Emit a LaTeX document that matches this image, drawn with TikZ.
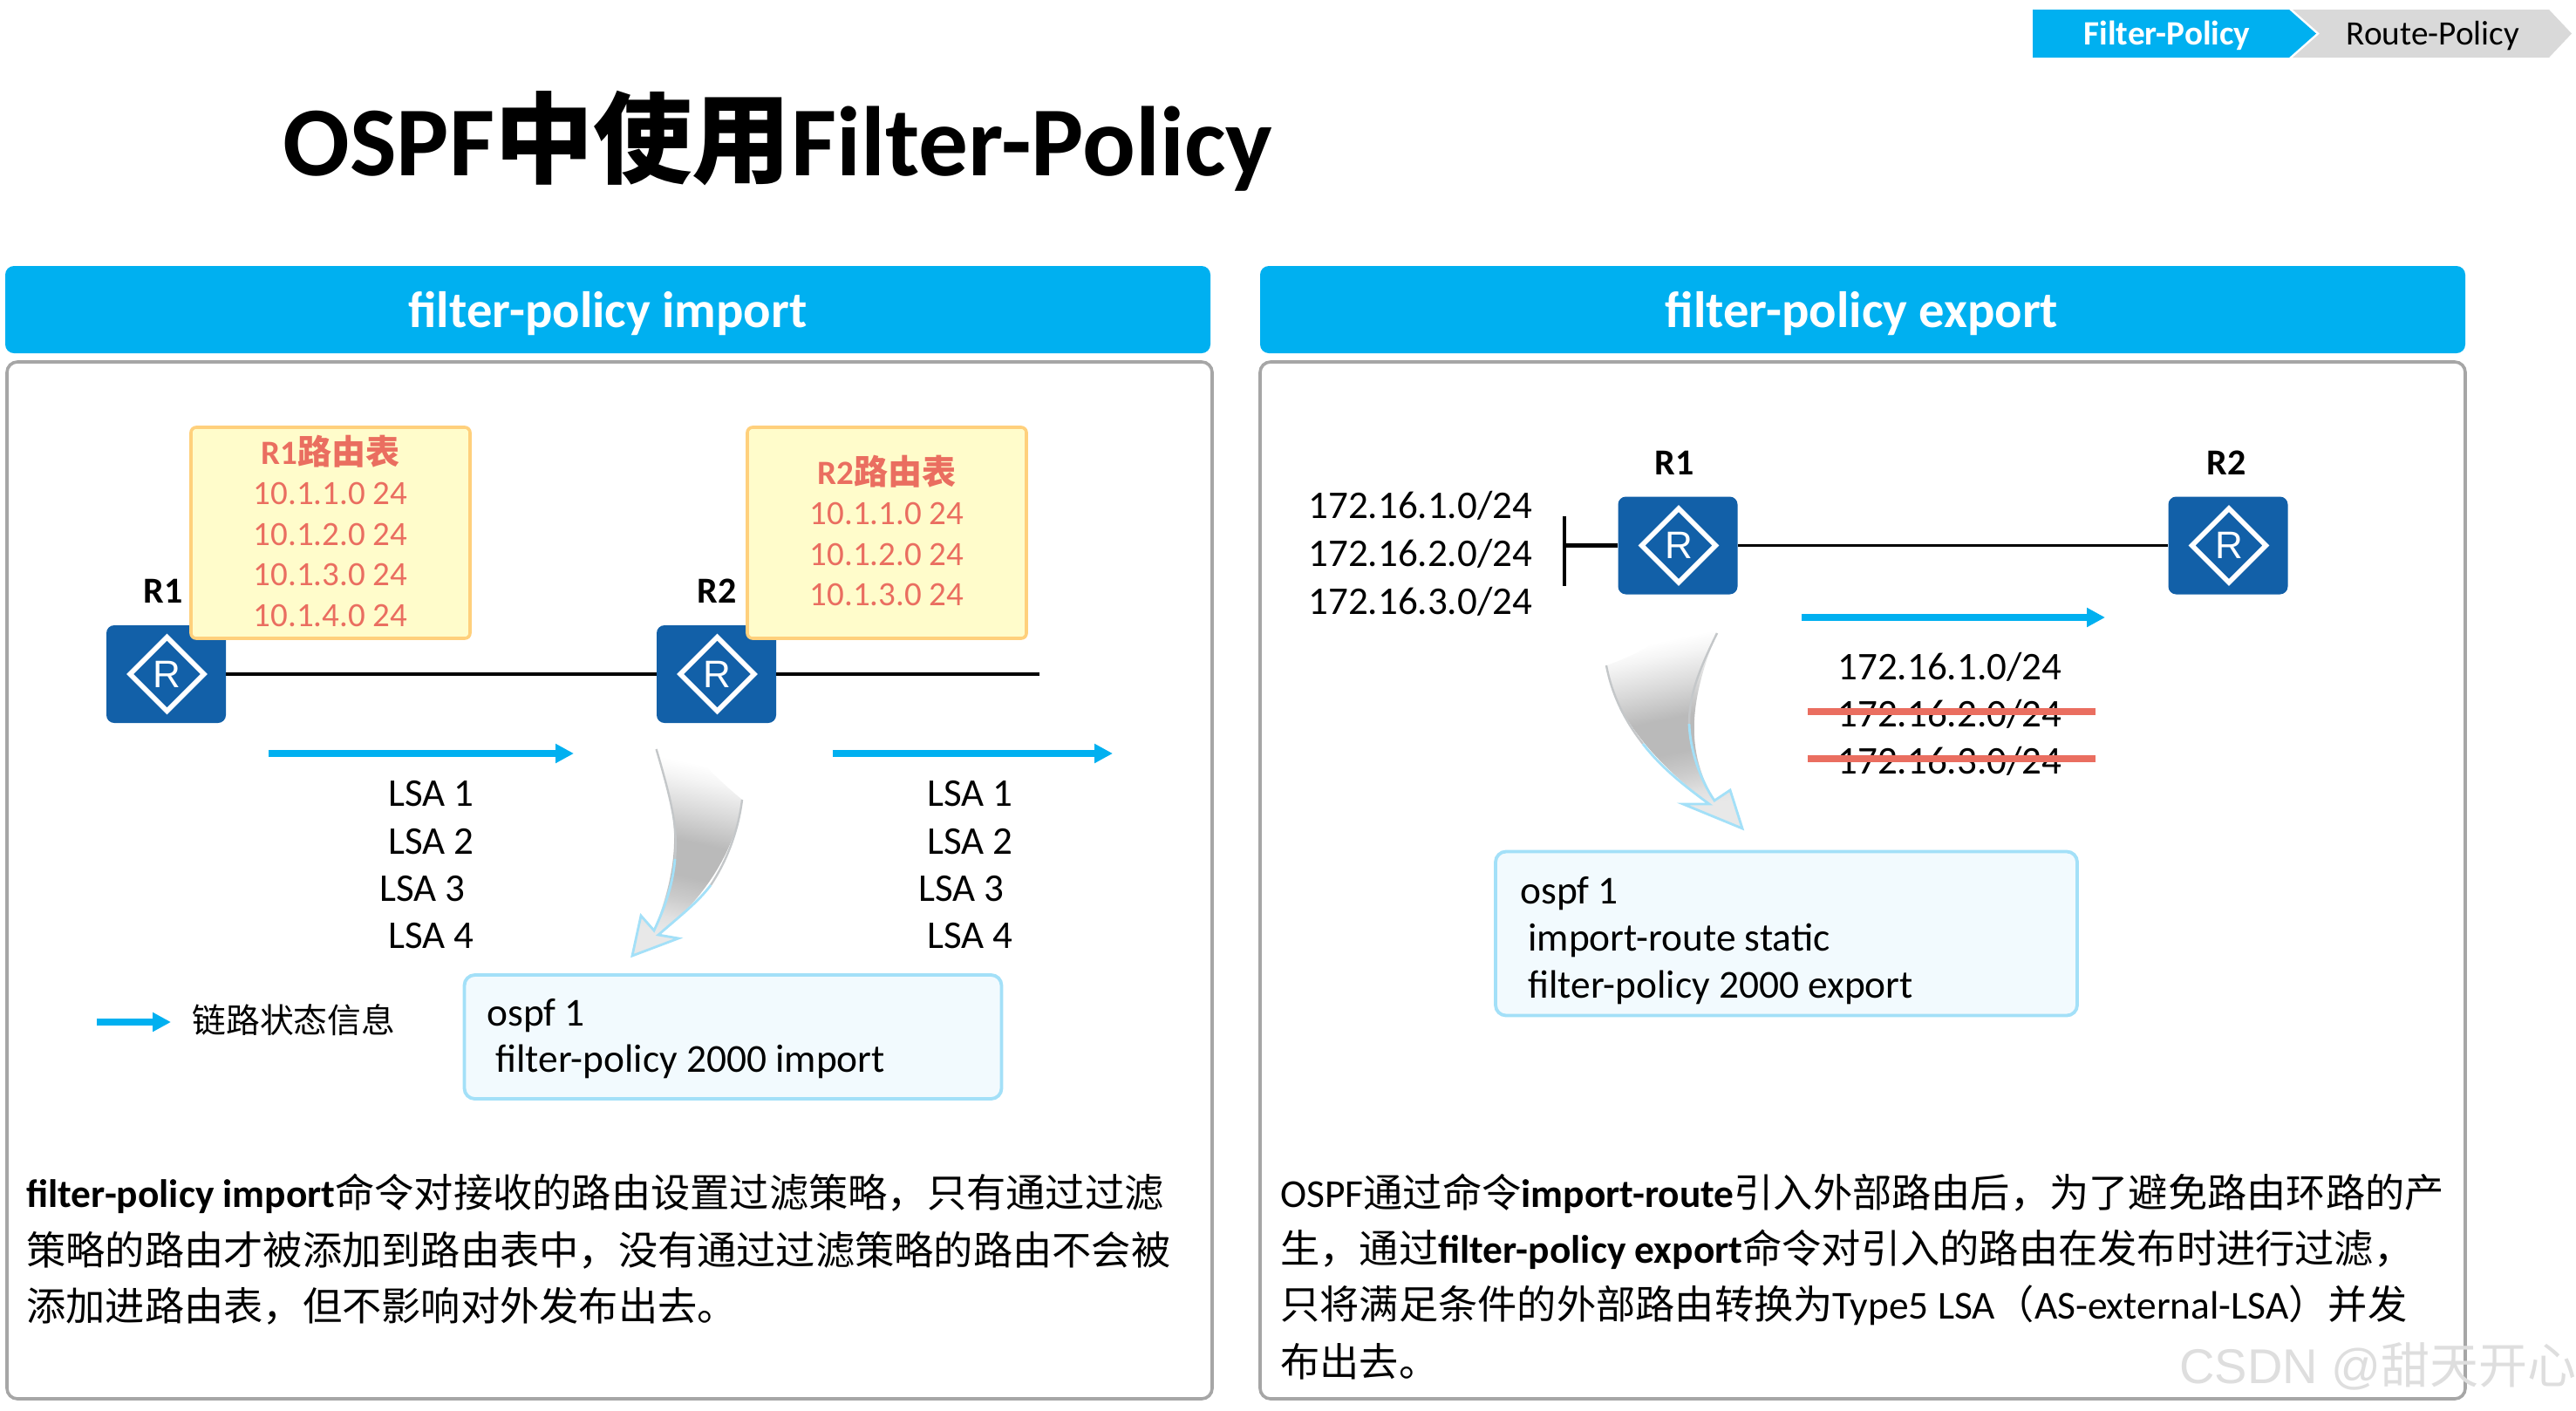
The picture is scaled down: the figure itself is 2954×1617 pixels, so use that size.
\documentclass[tikz,border=0pt]{standalone}
\usepackage{fontspec}
\setmainfont{Carlito}
\newfontfamily\cjk{Noto Sans CJK SC}
\newfontfamily\wm{Liberation Sans}
\usetikzlibrary{shapes.geometric,arrows.meta}
\definecolor{skyb}{HTML}{00B0F0}
\definecolor{routerb}{HTML}{1260A8}
\definecolor{salmon}{HTML}{EA6E60}
\definecolor{panelg}{HTML}{A6A6A6}
\definecolor{edgeb}{HTML}{A3E0F8}
\definecolor{edgeg}{HTML}{C4C7C9}
\pgfdeclareverticalshading{swoosh}{100bp}{color(0bp)=(black!9!white);color(28bp)=(black!9!white);color(32bp)=(black!12!white);color(37bp)=(black!20!white);color(43bp)=(black!27!white);color(52bp)=(black!27!white);color(60bp)=(black!15!white);color(68bp)=(black!4!white);color(72bp)=(white);color(100bp)=(white)}
\newcommand\zh[1]{{\cjk\fontsize{22.62}{22.62}\selectfont #1}}
\newcommand\routerat[3]{%
  \node[routerbox] (#1) at (#2,#3) {};
  \node[routermark] (#1m) at (#2+1,#3) {R};}
\tikzset{
  panelhead/.style={fill=skyb,draw=none,rounded corners=5pt},
  panelbody/.style={draw=panelg,line width=1.8pt,fill=white,rounded corners=6pt},
  routerbox/.style={rectangle,fill=routerb,draw=none,rounded corners=4.5pt,minimum width=68.5pt,minimum height=56pt,inner sep=0pt},
  routermark/.style={diamond,aspect=1,draw=white,line width=2.8pt,minimum size=43.5pt,inner sep=0pt,text=white,font=\wm\fontsize{22}{22}\selectfont},
  rlabel/.style={anchor=base,yshift=-0.5pt,font=\bfseries\fontsize{21}{21}\selectfont},
  txt/.style={anchor=base west,yshift=-1pt,font=\fontsize{22.7}{22.7}\selectfont,inner sep=0pt},
  tight/.style={yshift=0.5pt,font=\fontsize{22.5}{22.5}\selectfont},
  rtab/.style={anchor=base,yshift=-0.5pt,font=\fontsize{19.5}{19.5}\selectfont,text=salmon,inner sep=0pt},
  rtitle/.style={anchor=base,yshift=-1pt,font=\bfseries\fontsize{19.5}{19.5}\selectfont,text=salmon,inner sep=0pt},
  yellowbox/.style={rectangle,draw={rgb,255:red,255;green,208;blue,124},fill={rgb,255:red,255;green,252;blue,203},line width=1.8pt,rounded corners=3pt},
  cfgbox/.style={rectangle,draw=edgeb,fill={rgb,255:red,242;green,250;blue,254},line width=1.9pt,rounded corners=6pt},
  link/.style={draw=black,line width=1.6pt},
  flow/.style={draw=skyb,line width=3.8pt,-{Triangle[length=10.5pt,width=10.5pt]}},
  strike/.style={draw=salmon,line width=3.8pt},
  bodyfill/.style={shading=swoosh,draw=none},
  edgesoft/.style={draw=edgeg,line width=1.2pt},
  edgeblue/.style={draw=edgeb,line width=1.4pt,line join=miter},
}
\begin{document}
\begin{tikzpicture}[x=0.5pt,y=-0.5pt]
\path[use as bounding box,fill=white] (0,0) rectangle (2954,1617);

% tabs
\fill[skyb] (2331,11) -- (2625,11) -- (2656,38.5) -- (2625,66) -- (2331,66) -- cycle;
\fill[black!15] (2629,11) -- (2923,11) -- (2949,38.5) -- (2923,66) -- (2629,66) -- (2660,38.5) -- cycle;
\node[anchor=base,inner sep=0pt,text=white,font=\bfseries\fontsize{19.6}{19.6}\selectfont] (tabf) at (2485,51) {Filter-Policy};
\node[anchor=base,inner sep=0pt,font=\fontsize{19.6}{19.6}\selectfont] (tabr) at (2790,51) {Route-Policy};

% title
\node[anchor=base west,inner sep=0pt,font=\bfseries\fontsize{56.7}{56.7}\selectfont] (title) at (324,201) {OSPF{\cjk 中使用}Filter-Policy};

% panels
\draw[panelbody] (8,415) rectangle (1390,1604);
\draw[panelbody] (1445,415) rectangle (2827,1604);
\fill[panelhead] (6,305) rectangle (1388,405);
\fill[panelhead] (1445,305) rectangle (2827,405);
\node[anchor=base,inner sep=0pt,text=white,font=\bfseries\fontsize{29.3}{29.3}\selectfont] (hl) at (697,375) {filter-policy import};
\node[anchor=base,inner sep=0pt,text=white,font=\bfseries\fontsize{29.3}{29.3}\selectfont] (hr) at (2135,375) {filter-policy export};

% left: routers and link
\coordinate (lend) at (1192,773);
\routerat{r1}{190.5}{773}
\routerat{r2}{821.5}{773}
\draw[link] (r1) -- (r2);
\draw[link] (r2) -- (lend);
\node[rlabel] (r1l) at (187,690) {R1};
\node[rlabel] (r2l) at (822,690) {R2};

% routing tables
\node[yellowbox,minimum width=160pt,minimum height=121pt] (t1) at (379,611) {};
\node[rtitle] (t1h) at (379,530) {R1{\cjk\bfseries 路由表}};
\node[rtab] (t1a) at (379,577) {10.1.1.0 24};
\node[rtab] (t1b) at (379,624) {10.1.2.0 24};
\node[rtab] (t1c) at (379,670) {10.1.3.0 24};
\node[rtab] (t1d) at (379,717) {10.1.4.0 24};
\node[yellowbox,minimum width=160pt,minimum height=121pt] (t2) at (1017,611) {};
\node[rtitle] (t2h) at (1017,553) {R2{\cjk\bfseries 路由表}};
\node[rtab] (t2a) at (1017,600) {10.1.1.0 24};
\node[rtab] (t2b) at (1017,647) {10.1.2.0 24};
\node[rtab] (t2c) at (1017,693) {10.1.3.0 24};

% flow arrows left
\coordinate (fa1) at (308,864); \coordinate (fa2) at (658,864);
\coordinate (fb1) at (955,864); \coordinate (fb2) at (1276,864);
\draw[flow] (fa1) -- (fa2);
\draw[flow] (fb1) -- (fb2);
\coordinate (fl1) at (111,1172); \coordinate (fl2) at (196,1172);
\draw[flow] (fl1) -- (fl2);
\node[anchor=west,inner sep=0pt,font=\cjk\fontsize{19.4}{19.4}\selectfont] (leg) at (220,1170) {链路状态信息};

% LSA
\node[txt,tight] (a1) at (445,923) {LSA 1};
\node[txt,tight] (a2) at (445,978) {LSA 2};
\node[txt,tight] (a3) at (435,1032) {LSA 3};
\node[txt,tight] (a4) at (445,1086) {LSA 4};
\node[txt,tight] (b1) at (1063,923) {LSA 1};
\node[txt,tight] (b2) at (1063,978) {LSA 2};
\node[txt,tight] (b3) at (1053,1032) {LSA 3};
\node[txt,tight] (b4) at (1063,1086) {LSA 4};

% curved arrow left
\path[bodyfill,shading angle=-12] (752.6,859) -- (782,851) .. controls (810,880) and (830,900) .. (851,917) .. controls (845,970) and (810,1030) .. (755,1072) -- (778,1076) -- (725,1096) -- (735,1050) -- (750,1067) .. controls (775,1000) and (785,950) .. (752.6,859) -- cycle;
\draw[edgesoft] (752.6,859) .. controls (772,925) and (777,950) .. (774,985);
\draw[edgesoft] (851,917) .. controls (847,950) and (835,985) .. (815,1015);
\draw[edgeblue] (774,985) .. controls (772,1010) and (765,1035) .. (750,1067) -- (735,1050) -- (725,1096) -- (778,1076) -- (755,1072) .. controls (780,1050) and (800,1035) .. (815,1015);

% config left
\node[cfgbox,minimum width=308pt,minimum height=71pt] (c1) at (840.5,1189) {};
\node[txt] (c1a) at (558,1174) {ospf 1};
\node[txt] (c1b) at (568,1227) {filter-policy 2000 import};

% left paragraph
\node[txt] (p1) at (30,1382) {\textbf{filter-policy import}\zh{命令对接收的路由设置过滤策略，只有通过过滤}};
\node[txt] (p2) at (30,1448) {\zh{策略的路由才被添加到路由表中，没有通过过滤策略的路由不会被}};
\node[txt] (p3) at (30,1512) {\zh{添加进路由表，但不影响对外发布出去。}};

% right: routers and link
\routerat{r3}{1924}{625.5}
\routerat{r4}{2555}{625.5}
\draw[link] (r3) -- (r4);
\coordinate (bar1) at (1794,592); \coordinate (bar2) at (1794,672); \coordinate (barm) at (1794,625.5);
\draw[link,line width=2.2pt] (bar1) -- (bar2);
\draw[link,line width=2.2pt] (barm) -- (r3);
\node[rlabel] (r3l) at (1920,543) {R1};
\node[rlabel] (r4l) at (2553,543) {R2};
\node[txt,tight] (n1) at (1500,593) {172.16.1.0/24};
\node[txt,tight] (n2) at (1500,648) {172.16.2.0/24};
\node[txt,tight] (n3) at (1500,703) {172.16.3.0/24};

% flow right
\coordinate (fc1) at (2066,708); \coordinate (fc2) at (2414,708);
\draw[flow] (fc1) -- (fc2);
\node[txt,tight] (m1) at (2107,778) {172.16.1.0/24};
\node[txt,tight] (m2) at (2107,832) {172.16.2.0/24};
\node[txt,tight] (m3) at (2107,886) {172.16.3.0/24};
\coordinate (s1a) at (2073,816); \coordinate (s1b) at (2403,816);
\coordinate (s2a) at (2073,870); \coordinate (s2b) at (2403,870);
\draw[strike] (s1a) -- (s1b);
\draw[strike] (s2a) -- (s2b);

% curved arrow right
\path[bodyfill,shading angle=12] (1969,726) -- (1929,713) .. controls (1905,735) and (1875,752) .. (1842,763) .. controls (1850,810) and (1880,860) .. (1960,922) -- (1930,922) -- (1998,950) -- (1984,906) -- (1966,918) .. controls (1945,880) and (1925,830) .. (1969,726) -- cycle;
\draw[edgesoft] (1969,726) .. controls (1945,775) and (1937,800) .. (1937,830);
\draw[edgesoft] (1842,763) .. controls (1848,795) and (1862,825) .. (1884,853);
\draw[edgeblue] (1937,830) .. controls (1938,860) and (1950,895) .. (1966,918) -- (1984,906) -- (1998,950) -- (1930,922) -- (1960,922) .. controls (1930,900) and (1905,880) .. (1884,853);

% config right
\node[cfgbox,minimum width=333.5pt,minimum height=94pt] (c2) at (2048.5,1070.5) {};
\node[txt] (c2a) at (1743,1034) {ospf 1};
\node[txt] (c2b) at (1752,1088) {import-route static};
\node[txt] (c2c) at (1752,1142) {filter-policy 2000 export};

% right paragraph
\node[txt] (q1) at (1468,1382) {OSPF\zh{通过命令}\textbf{import-route}\zh{引入外部路由后，为了避免路由环路的产}};
\node[txt] (q2) at (1468,1446) {\zh{生，通过}\textbf{filter-policy export}\zh{命令对引入的路由在发布时进行过滤，}};
\node[txt] (q3) at (1468,1510) {\zh{只将满足条件的外部路由转换为}Type5 LSA\zh{（}AS-external-LSA\zh{）并发}};
\node[txt] (q4) at (1468,1576) {\zh{布出去。}};

% watermark
\node[anchor=base west,inner sep=0pt,text=black!13,font=\wm\fontsize{28}{28}\selectfont] (wm) at (2499,1586) {CSDN @{\cjk 甜天开心}};
\end{tikzpicture}
\end{document}
